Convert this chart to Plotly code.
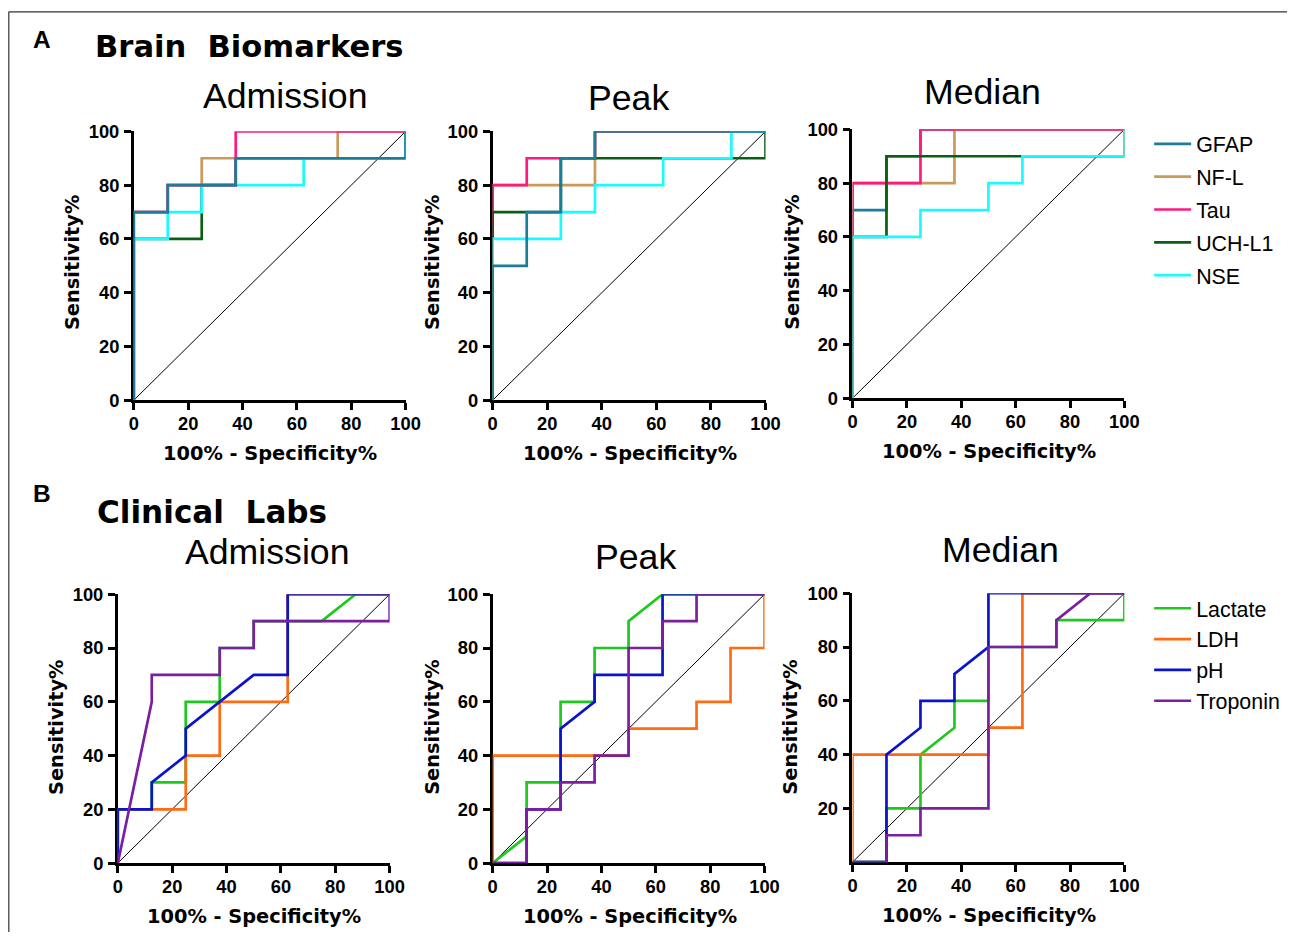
import plotly.graph_objects as go

# figure covers the whole 1302x942 page (body margin removed in post_script)
W, H = 1302, 942

# ---------------- DATA (100% - Specificity%, Sensitivity%) ----------------
# Brain biomarkers - Admission
brain_adm_gfap_x = [0, 0, 12.5, 12.5, 37.5, 37.5, 100, 100]
brain_adm_gfap_y = [0, 70, 70, 80, 80, 90, 90, 100]
brain_adm_nfl_x = [0, 0, 12.5, 12.5, 25, 25, 75, 75, 100]
brain_adm_nfl_y = [0, 70, 70, 80, 80, 90, 90, 100, 100]
brain_adm_tau_x = [0, 0, 12.5, 12.5, 37.5, 37.5, 100]
brain_adm_tau_y = [0, 70, 70, 80, 80, 100, 100]
brain_adm_uchl1_x = [0, 0, 25, 25, 37.5, 37.5, 100, 100]
brain_adm_uchl1_y = [0, 60, 60, 80, 80, 90, 90, 100]
brain_adm_nse_x = [0, 0, 12.5, 12.5, 25, 25, 62.5, 62.5, 100, 100]
brain_adm_nse_y = [0, 60, 60, 70, 70, 80, 80, 90, 90, 100]

# Brain biomarkers - Peak
brain_peak_gfap_x = [0, 0, 12.5, 12.5, 25, 25, 37.5, 37.5, 100]
brain_peak_gfap_y = [0, 50, 50, 70, 70, 90, 90, 100, 100]
brain_peak_nfl_x = [0, 0, 37.5, 37.5, 100]
brain_peak_nfl_y = [0, 80, 80, 100, 100]
brain_peak_tau_x = [0, 0, 12.5, 12.5, 37.5, 37.5, 100]
brain_peak_tau_y = [0, 80, 80, 90, 90, 100, 100]
brain_peak_uchl1_x = [0, 0, 25, 25, 100, 100]
brain_peak_uchl1_y = [0, 70, 70, 90, 90, 100]
brain_peak_nse_x = [0, 0, 25, 25, 37.5, 37.5, 62.5, 62.5, 87.5, 87.5, 100]
brain_peak_nse_y = [0, 60, 60, 70, 70, 80, 80, 90, 90, 100, 100]

# Brain biomarkers - Median
brain_med_gfap_x = [0, 0, 12.5, 12.5, 25, 25, 100]
brain_med_gfap_y = [0, 70, 70, 90, 90, 100, 100]
brain_med_nfl_x = [0, 0, 37.5, 37.5, 100]
brain_med_nfl_y = [0, 80, 80, 100, 100]
brain_med_tau_x = [0, 0, 25, 25, 100]
brain_med_tau_y = [0, 80, 80, 100, 100]
brain_med_uchl1_x = [0, 0, 12.5, 12.5, 100, 100]
brain_med_uchl1_y = [0, 60, 60, 90, 90, 100]
brain_med_nse_x = [0, 0, 25, 25, 50, 50, 62.5, 62.5, 100, 100]
brain_med_nse_y = [0, 60, 60, 70, 70, 80, 80, 90, 90, 100]

# Clinical labs - Admission
lab_adm_lactate_x = [0, 0, 12.5, 12.5, 25, 25, 37.5, 37.5, 50, 50, 75, 87.5, 100]
lab_adm_lactate_y = [0, 20, 20, 30, 30, 60, 60, 80, 80, 90, 90, 100, 100]
lab_adm_ldh_x = [0, 0, 25, 25, 37.5, 37.5, 62.5, 62.5, 100]
lab_adm_ldh_y = [0, 20, 20, 40, 40, 60, 60, 100, 100]
lab_adm_ph_x = [0, 0, 12.5, 12.5, 25, 25, 50, 62.5, 62.5, 100]
lab_adm_ph_y = [0, 20, 20, 30, 40, 50, 70, 70, 100, 100]
lab_adm_trop_x = [0, 12.5, 12.5, 37.5, 37.5, 50, 50, 100, 100]
lab_adm_trop_y = [0, 60, 70, 70, 80, 80, 90, 90, 100]

# Clinical labs - Peak
lab_peak_lactate_x = [0, 12.5, 12.5, 25, 25, 37.5, 37.5, 50, 50, 62.5, 100]
lab_peak_lactate_y = [0, 10, 30, 30, 60, 60, 80, 80, 90, 100, 100]
lab_peak_ldh_x = [0, 0, 50, 50, 75, 75, 87.5, 87.5, 100, 100]
lab_peak_ldh_y = [0, 40, 40, 50, 50, 60, 60, 80, 80, 100]
lab_peak_ph_x = [0, 12.5, 12.5, 25, 25, 37.5, 37.5, 62.5, 62.5, 100]
lab_peak_ph_y = [0, 0, 20, 20, 50, 60, 70, 70, 100, 100]
lab_peak_trop_x = [0, 12.5, 12.5, 25, 25, 37.5, 37.5, 50, 50, 62.5, 62.5, 75, 75, 100]
lab_peak_trop_y = [0, 0, 20, 20, 30, 30, 40, 40, 80, 80, 90, 90, 100, 100]

# Clinical labs - Median
lab_med_lactate_x = [0, 12.5, 12.5, 25, 25, 37.5, 37.5, 50, 50, 75, 75, 100, 100]
lab_med_lactate_y = [0, 0, 20, 20, 40, 50, 60, 60, 80, 80, 90, 90, 100]
lab_med_ldh_x = [0, 0, 50, 50, 62.5, 62.5, 100]
lab_med_ldh_y = [0, 40, 40, 50, 50, 100, 100]
lab_med_ph_x = [0, 12.5, 12.5, 25, 25, 37.5, 37.5, 50, 50, 100]
lab_med_ph_y = [0, 0, 40, 50, 60, 60, 70, 80, 100, 100]
lab_med_trop_x = [0, 12.5, 12.5, 25, 25, 50, 50, 75, 75, 87.5, 100]
lab_med_trop_y = [0, 0, 10, 10, 20, 20, 80, 80, 90, 100, 100]

chance_x = [0, 100]
chance_y = [0, 100]

axis_ticks = [0, 20, 40, 60, 80, 100]
axis_ticks_no_zero = [20, 40, 60, 80, 100]

brain_names = ["GFAP", "NF-L", "Tau", "UCH-L1", "NSE"]
lab_names = ["Lactate", "LDH", "pH", "Troponin"]
panel_titles = ["Admission", "Peak", "Median"]

# ---------------- STYLE ----------------
COL = {
    "GFAP": "#1c7d99", "NF-L": "#c99a5b", "Tau": "#ff1a80", "UCH-L1": "#0b5e12",
    "NSE": "#19fbff", "Lactate": "#1ec81e", "LDH": "#ff6a12", "pH": "#0a14cc",
    "Troponin": "#7a1fa2",
}
RANK = {n: i for i, n in enumerate(brain_names + lab_names)}

SANS = "Liberation Sans, Arial, Helvetica, sans-serif"
WIDE = "DejaVu Sans, Verdana, sans-serif"

# the photographed picture maps page pixels p to picture pixels a + s*p;
# positions below are given in picture pixels and converted back.
AX, SX = 4.2, 0.985
AY, SY = 10.6, 0.978
FS = 1 / 0.981


def fx(q):
    return ((q - AX) / SX) / W


def fy(q):
    return 1 - ((q - AY) / SY) / H


# picture-pixel geometry of each plotting area: x(0), x(100), y(100), y(0)
geom = [
    (133, 405, 131, 400), (492, 765, 131, 400), (852, 1124, 129, 398),
    (117, 389, 594, 863), (492, 764, 594, 863), (852, 1124, 593, 862),
]

# drawing order per panel (bottom -> top)
panels = [
    [("UCH-L1", brain_adm_uchl1_x, brain_adm_uchl1_y), ("NSE", brain_adm_nse_x, brain_adm_nse_y),
     ("NF-L", brain_adm_nfl_x, brain_adm_nfl_y), ("Tau", brain_adm_tau_x, brain_adm_tau_y),
     ("GFAP", brain_adm_gfap_x, brain_adm_gfap_y)],
    [("NF-L", brain_peak_nfl_x, brain_peak_nfl_y), ("Tau", brain_peak_tau_x, brain_peak_tau_y),
     ("UCH-L1", brain_peak_uchl1_x, brain_peak_uchl1_y), ("NSE", brain_peak_nse_x, brain_peak_nse_y),
     ("GFAP", brain_peak_gfap_x, brain_peak_gfap_y)],
    [("GFAP", brain_med_gfap_x, brain_med_gfap_y), ("NF-L", brain_med_nfl_x, brain_med_nfl_y),
     ("Tau", brain_med_tau_x, brain_med_tau_y), ("UCH-L1", brain_med_uchl1_x, brain_med_uchl1_y),
     ("NSE", brain_med_nse_x, brain_med_nse_y)],
    [("Lactate", lab_adm_lactate_x, lab_adm_lactate_y), ("LDH", lab_adm_ldh_x, lab_adm_ldh_y),
     ("pH", lab_adm_ph_x, lab_adm_ph_y), ("Troponin", lab_adm_trop_x, lab_adm_trop_y)],
    [("Lactate", lab_peak_lactate_x, lab_peak_lactate_y), ("LDH", lab_peak_ldh_x, lab_peak_ldh_y),
     ("pH", lab_peak_ph_x, lab_peak_ph_y), ("Troponin", lab_peak_trop_x, lab_peak_trop_y)],
    [("Lactate", lab_med_lactate_x, lab_med_lactate_y), ("LDH", lab_med_ldh_x, lab_med_ldh_y),
     ("pH", lab_med_ph_x, lab_med_ph_y), ("Troponin", lab_med_trop_x, lab_med_trop_y)],
]

fig = go.Figure()

for i, series in enumerate(panels):
    sfx = "" if i == 0 else str(i + 1)
    fig.add_trace(go.Scatter(
        x=chance_x, y=chance_y, mode="lines", xaxis="x" + sfx, yaxis="y" + sfx,
        line=dict(color="black", width=1), showlegend=False, hoverinfo="skip",
        cliponaxis=False))
    for name, xs, ys in series:
        fig.add_trace(go.Scatter(
            x=xs, y=ys, mode="lines", name=name, xaxis="x" + sfx, yaxis="y" + sfx,
            line=dict(color=COL[name], width=2.7), cliponaxis=False,
            legendgroup=name, legendrank=RANK[name] + 1,
            showlegend=(i in (0, 3)), legend=("legend" if i < 3 else "legend2")))

tickfont = dict(family=SANS, size=18 * FS, color="black", weight="bold")
layout = dict(
    width=W, height=H, margin=dict(l=0, r=0, t=0, b=0, pad=0),
    paper_bgcolor="white", plot_bgcolor="white",
)
for i, (x0, x1, yt, yb) in enumerate(geom):
    sfx = "" if i == 0 else str(i + 1)
    common = dict(range=[0, 100], showline=True, linecolor="black", linewidth=2.5,
                  ticks="outside", ticklen=7, tickwidth=2.5, tickcolor="black",
                  showgrid=False, zeroline=False, tickfont=tickfont,
                  layer="below traces", fixedrange=True)
    layout["xaxis" + sfx] = dict(domain=[fx(x0), fx(x1)], anchor="y" + sfx,
                                 tickvals=axis_ticks, ticklabelstandoff=-2, **common)
    layout["yaxis" + sfx] = dict(domain=[fy(yb), fy(yt)], anchor="x" + sfx,
                                 tickvals=(axis_ticks_no_zero if i == 5 else axis_ticks),
                                 ticklabelstandoff=1, **common)

legend_font = dict(family=SANS, size=21 * FS, color="black")
layout["legend"] = dict(x=1162 / W, y=1 - 115 / H, xanchor="left", yanchor="top",
                        font=legend_font, itemwidth=37,
                        bgcolor="rgba(0,0,0,0)", tracegroupgap=2, itemclick=False)
layout["legend2"] = dict(x=1162 / W, y=1 - 590 / H, xanchor="left", yanchor="top",
                         font=legend_font, itemwidth=37,
                         bgcolor="rgba(0,0,0,0)", tracegroupgap=0, itemclick=False)

fig.update_layout(**layout)

ann = []


def text(t, x, y, size, family=SANS, bold=False, xanchor="center", angle=0):
    ann.append(dict(text=t, x=fx(x), y=fy(y), xref="paper", yref="paper",
                    showarrow=False, xanchor=xanchor, yanchor="middle", textangle=angle,
                    font=dict(family=family, size=size * FS, color="black",
                              weight=("bold" if bold else "normal"))))


text("A", 41, 39, 24, bold=True)
text("Brain\u00a0 Biomarkers", 92, 46, 30, family=WIDE, bold=True, xanchor="left")
text("B", 41, 493, 24, bold=True)
text("Clinical\u00a0 Labs", 94, 512, 30.5, family=WIDE, bold=True, xanchor="left")

title_pos = [(284, 96), (628, 98), (982, 92), (266, 552), (635, 557), (1000, 550)]
for i, (tx, ty) in enumerate(title_pos):
    text(panel_titles[i % 3], tx, ty, 35)

ylab_pos = [(72, 262), (432, 262), (792, 262), (55, 727), (432, 727), (790, 727)]
xlab_pos = [(269, 453), (629, 453), (989, 451), (253, 916), (629, 916), (989, 915)]
for (yx, yy) in ylab_pos:
    text("Sensitivity%", yx, yy, 19, family=WIDE, bold=True, angle=-90)
for (xx, xy) in xlab_pos:
    text("100% - Specificity%", xx, xy, 19, family=WIDE, bold=True)

fig.update_layout(annotations=ann)

# figure frame (top and left edges)
frame = dict(color="#333333", width=1.2)
fig.add_shape(type="line", xref="paper", yref="paper", x0=fx(8), x1=1,
              y0=1 - 0.8 / H, y1=1 - 0.8 / H, line=frame, layer="below")
fig.add_shape(type="line", xref="paper", yref="paper", x0=fx(8), x1=fx(8),
              y0=0, y1=1 - 0.8 / H, line=frame, layer="below")

fig.write_html(
    "out.html",
    config={"displayModeBar": False},
    post_script=("document.documentElement.style.margin='0';"
                 "document.body.style.margin='0';"
                 "document.documentElement.style.overflow='hidden';"
                 "document.body.style.overflow='hidden';"),
)
